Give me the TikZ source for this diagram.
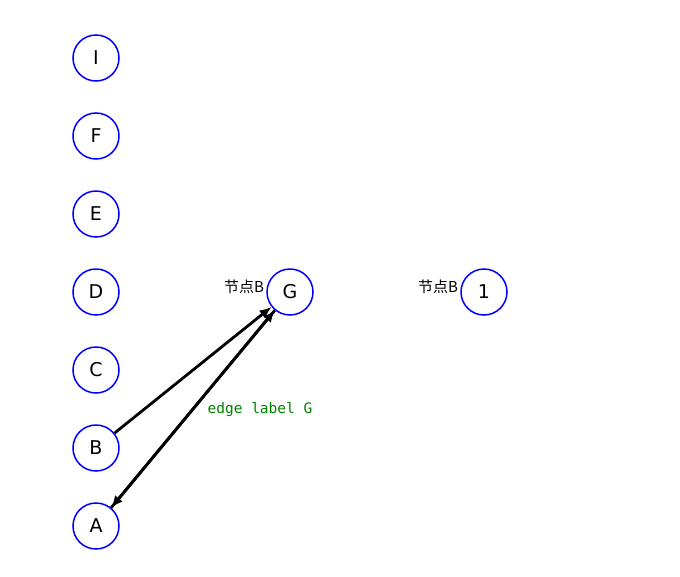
\documentclass[tikz,border=0pt]{standalone}
\usepackage{fontspec}
\setmainfont{DejaVu Sans}
\newfontfamily\cjk{Noto Sans CJK SC}
\newfontfamily\monof{DejaVu Sans Mono}
\usetikzlibrary{arrows.meta}
\definecolor{lblgreen}{RGB}{0,128,0}
\tikzset{
  vert/.style={circle, draw=blue, line width=1.5pt, minimum size=46pt, inner sep=0pt, font=\fontsize{19}{19}\selectfont},
  conn/.style={line width=2.8pt, -{Latex[length=12pt,width=10pt]}},
  cjklbl/.style={font=\cjk\fontsize{15}{15}\selectfont, inner sep=0pt},
  elbl/.style={font=\monof\fontsize{14.5}{14.5}\selectfont, text=lblgreen, inner sep=0pt}
}
\begin{document}
\begin{tikzpicture}[x=1pt,y=-1pt]
\useasboundingbox (0,0) rectangle (680,576);
\node[vert] (I) at (96,58) {I};
\node[vert] (F) at (96,136) {F};
\node[vert] (E) at (96,214) {E};
\node[vert] (D) at (96,292) {D};
\node[vert] (C) at (96,370) {C};
\node[vert] (B) at (96,448) {B};
\node[vert] (A) at (96,526) {A};
\node[vert] (G) at (290,292) {G};
\node[vert] (N1) at (484,292) {1};
\node[cjklbl] (lg) at (244,287) {节点B};
\node[cjklbl] (l1) at (438,287) {节点B};
\draw[conn] (B) -- (G);
\draw[conn] (A) -- (G);
\draw[conn] (G) -- (A);
\node[elbl] (el) at (260,410) {edge label G};
\end{tikzpicture}
\end{document}
